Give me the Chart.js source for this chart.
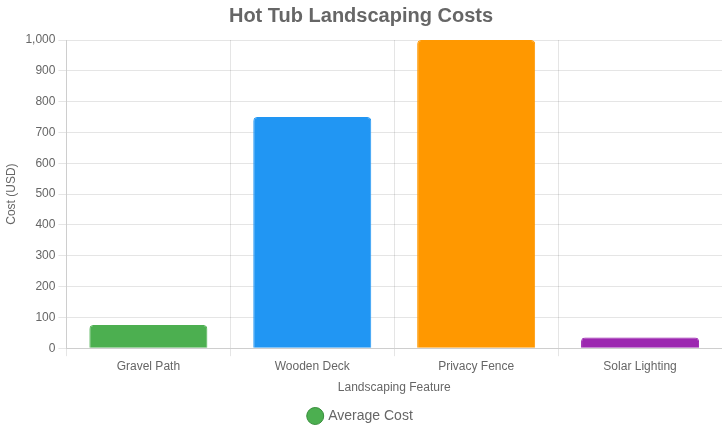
<!DOCTYPE html><html><head><script src="https://cdn.jsdelivr.net/npm/chart.js@4"></script>
<style>body{margin:0}#w{width:722px;height:433px}</style></head><body><div id="w"><canvas id="c"></canvas></div>
<script>
const categories=["Gravel Path","Wooden Deck","Privacy Fence","Solar Lighting"];
const costs=[75,750,1000,35];
const colors=["#4CAF50","#2196F3","#FF9800","#9C27B0"];
new Chart(document.getElementById('c'),{type:'bar',data:{labels:categories,datasets:[{label:'Average Cost',data:costs,backgroundColor:colors,borderColor:colors,borderWidth:1,borderRadius:4}]},
options:{responsive:true,maintainAspectRatio:false,animation:false,
plugins:{title:{display:true,text:'Hot Tub Landscaping Costs',font:{size:20,weight:'bold'},color:'#666',padding:{top:4,bottom:12}},
legend:{position:'bottom',labels:{usePointStyle:true,pointStyle:'circle',color:'#666',font:{size:14},boxWidth:12,boxHeight:12,generateLabels:c=>[{text:'Average Cost',fillStyle:'#4CAF50',strokeStyle:'#388E3C',lineWidth:1,pointStyle:'circle',fontColor:'#666'}]}}},
scales:{y:{beginAtZero:true,max:1000,ticks:{stepSize:100},title:{display:true,text:'Cost (USD)'}},x:{title:{display:true,text:'Landscaping Feature'}}}}});
</script></body></html>
